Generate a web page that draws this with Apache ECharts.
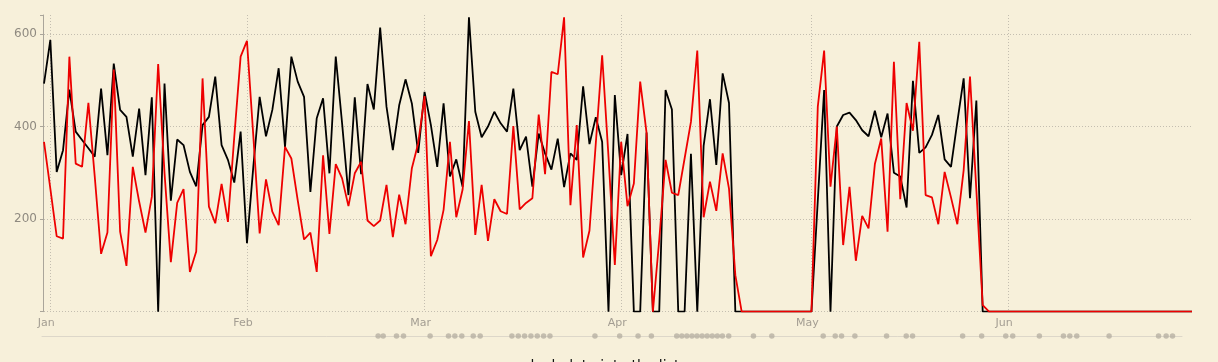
<!DOCTYPE html>
<html>
<head>
<meta charset="utf-8">
<script src="https://cdn.jsdelivr.net/npm/echarts@6/dist/echarts.min.js"></script>
<style>
html,body{margin:0;padding:0;background:#f7f0da;}
#chart{width:1218px;height:362px;}
</style>
</head>
<body>
<div id="chart"></div>
<script>
// ---- data ----
const startDate = '2014-12-31';
const dayCount = 182;
const monthLabels = ['Jan', 'Feb', 'Mar', 'Apr', 'May', 'Jun'];
const monthStartIdx = [1, 32, 60, 91, 121, 152];
const yTicks = [200, 400, 600];

const blackValues = [
493,587,302,349,480,389,371,353,335,482,
338,536,436,421,335,439,295,463,0,493,
240,372,360,302,271,403,421,508,360,328,
279,389,148,313,464,379,436,526,356,551,
497,464,259,418,461,299,551,407,252,463,
297,492,437,614,443,349,446,502,450,343,
475,403,313,450,292,329,270,636,432,377,
400,432,407,389,482,349,378,270,385,342,
307,374,269,342,328,487,362,420,367,0,
468,295,384,0,0,387,0,0,479,437,
0,0,341,0,358,459,317,515,451,0,
0,0,0,0,0,0,0,0,0,0,
0,0,240,479,0,400,425,430,414,392,
379,434,377,428,300,292,225,499,343,355,
382,425,329,313,410,504,245,456,0,0,
0,0,0,0,0,0,0,0,0,0,
0,0,0,0,0,0,0,0,0,0,
0,0,0,0,0,0,0,0,0,0,
0,0
];

const redValues = [
367,266,163,158,551,320,313,451,292,125,
171,523,173,99,313,238,171,248,535,300,
107,235,265,86,130,504,227,191,276,194,
378,551,585,380,169,286,216,187,356,331,
241,156,171,86,338,168,319,288,228,299,
324,197,185,197,274,161,253,189,310,364,
466,120,155,220,367,204,264,412,166,274,
153,243,217,211,401,221,235,245,426,297,
518,513,636,230,403,117,175,364,554,335,
101,367,228,277,497,387,0,155,328,257,
252,331,410,564,204,281,218,342,266,79,
0,0,0,0,0,0,0,0,0,0,
0,0,443,564,270,400,144,270,110,207,
180,319,374,173,540,243,451,391,583,252,
247,189,302,247,189,306,508,263,14,0,
0,0,0,0,0,0,0,0,0,0,
0,0,0,0,0,0,0,0,0,0,
0,0,0,0,0,0,0,0,0,0,
0,0
];

// rug marks, in days after the first date
const rugDays = [
52.7,53.5,55.6,56.7,60.9,63.8,64.8,65.9,67.7,68.8,
73.8,74.8,75.8,76.8,77.8,78.8,79.8,
86.9,90.8,93.7,95.8,99.8,100.6,101.4,102.2,103.0,103.8,104.6,105.4,106.2,107.0,108.0,
111.9,114.8,
122.9,124.8,125.8,127.9,132.9,136.0,137.0,
144.9,147.9,151.7,152.8,157.0,160.8,161.8,162.9,168.0,175.8,177.0,178.0
];

const categories = [];
{
  const t0 = new Date(startDate + 'T00:00:00Z').getTime();
  for (let i = 0; i < dayCount; i++) {
    categories.push(new Date(t0 + i * 86400000).toISOString().slice(0, 10));
  }
}

const FONT = 'DejaVu Sans';
const isMonthStart = (idx) => monthStartIdx.indexOf(idx) >= 0;

const chart = echarts.init(document.getElementById('chart'), null, { renderer: 'canvas' });
chart.setOption({
  backgroundColor: '#f7f0da',
  animation: false,
  textStyle: { fontFamily: FONT },
  grid: [
    { left: 44, right: 26, top: 15, bottom: 50.3 },
    { left: 42, right: 36, top: 331, height: 10 }
  ],
  xAxis: [
    {
      type: 'category',
      gridIndex: 0,
      data: categories,
      boundaryGap: false,
      axisLine: { show: false },
      axisTick: { show: false },
      axisLabel: {
        interval: (idx) => isMonthStart(idx),
        formatter: (v, idx) => {
          const k = monthStartIdx.indexOf(idx);
          return k >= 0 ? monthLabels[k] : '';
        },
        color: '#a39d92',
        fontSize: 11,
        fontFamily: FONT,
        margin: 6,
        padding: [0, 8, 0, 0]
      },
      splitLine: {
        show: true,
        interval: (idx) => isMonthStart(idx),
        lineStyle: { type: [1, 2], color: '#c4beb0', width: 1 }
      }
    },
    {
      type: 'value',
      gridIndex: 1,
      min: -0.32,
      max: 179.5,
      axisLine: { show: true, onZero: true, lineStyle: { color: '#ddd7c9', width: 1 } },
      axisTick: { show: false },
      axisLabel: { show: false },
      splitLine: { show: false }
    }
  ],
  yAxis: [
    {
      type: 'value',
      gridIndex: 0,
      min: 0,
      max: 641,
      interval: 200,
      offset: 1,
      axisLine: { show: true, lineStyle: { color: '#aaa59a', width: 1 } },
      axisTick: { show: true, length: 3, lineStyle: { color: '#aaa59a' } },
      axisLabel: {
        formatter: (v) => (yTicks.indexOf(v) >= 0 ? String(v) : ''),
        color: '#8f8a80',
        fontSize: 12,
        fontFamily: FONT,
        margin: 6
      },
      splitLine: {
        show: true,
        showMaxLine: false,
        lineStyle: { type: [1, 2], color: '#c4beb0', width: 1 }
      }
    },
    {
      type: 'value',
      gridIndex: 1,
      min: -1,
      max: 1,
      show: false
    }
  ],
  series: [
    {
      type: 'line',
      name: 'black',
      xAxisIndex: 0,
      yAxisIndex: 0,
      data: blackValues,
      symbol: 'none',
      lineStyle: { color: '#000000', width: 1.8 },
      z: 3
    },
    {
      type: 'line',
      name: 'red',
      xAxisIndex: 0,
      yAxisIndex: 0,
      data: redValues,
      symbol: 'none',
      lineStyle: { color: '#ee0000', width: 1.8 },
      z: 4
    },
    {
      type: 'scatter',
      name: 'rug',
      xAxisIndex: 1,
      yAxisIndex: 1,
      data: rugDays.map((d) => [d, 0]),
      symbol: 'circle',
      symbolSize: 5.5,
      itemStyle: { color: '#b7b0a3' },
      silent: true
    }
  ],
  graphic: [
    {
      type: 'text',
      x: 605,
      y: 359,
      style: {
        text: 'look data into the list',
        fontFamily: FONT,
        fontSize: 14,
        fill: '#111',
        align: 'center',
        verticalAlign: 'top'
      }
    }
  ]
});
</script>
</body>
</html>
